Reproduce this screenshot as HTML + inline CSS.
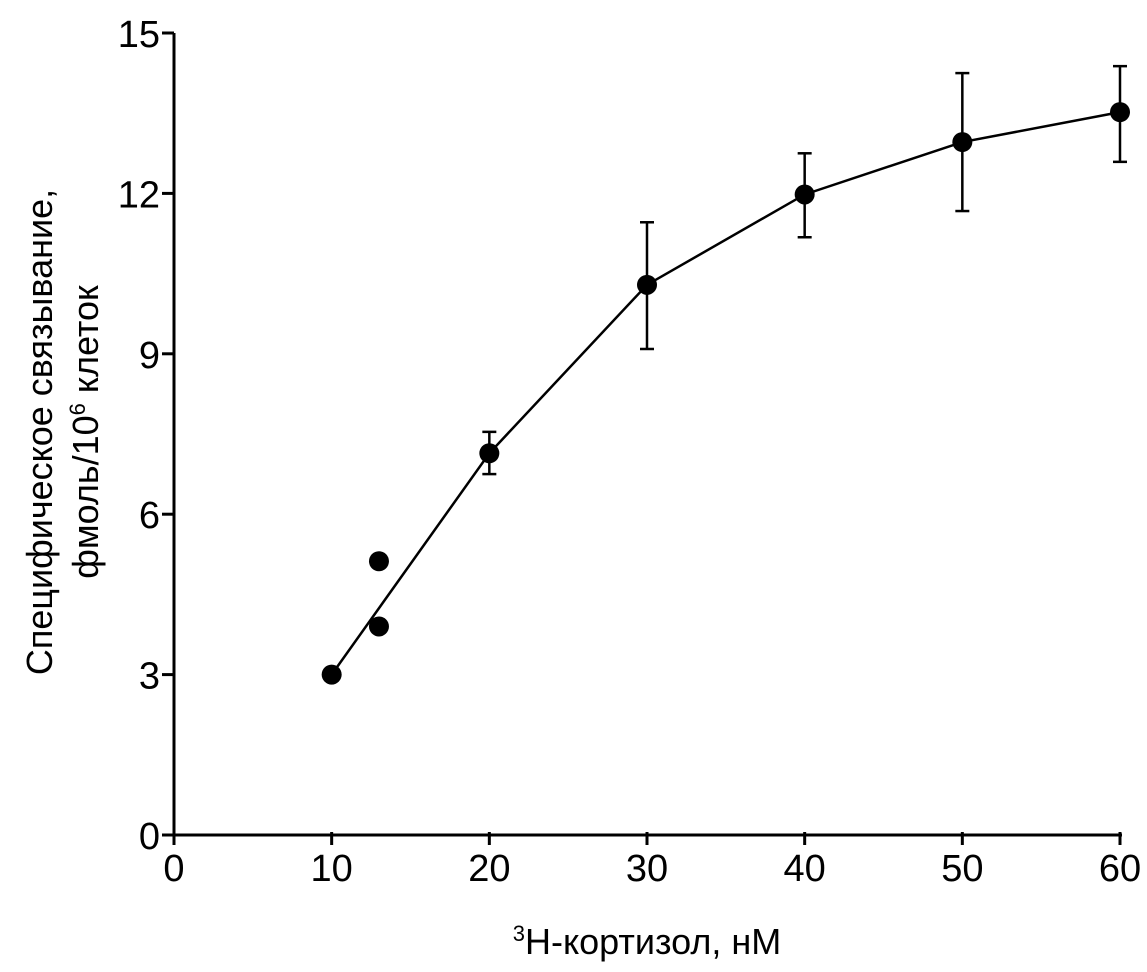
<!DOCTYPE html>
<html><head><meta charset="utf-8"><style>
html,body{margin:0;padding:0;background:#fff;}
svg{display:block;font-family:"Liberation Sans","DejaVu Sans",sans-serif;}
</style></head><body>
<svg id="chart" width="1147" height="972" viewBox="0 0 1147 972"></svg>
<script>
const xTicks=[0,10,20,30,40,50,60];
const yTicks=[0,3,6,9,12,15];
const pointX=[10,13,13,20,30,40,50,60];
const pointY=[3.0,5.12,3.9,7.14,10.29,11.98,12.96,13.52];
const lineX=[10,20,30,40,50,60];
const lineY=[3.0,7.14,10.29,11.98,12.96,13.52];
const errX=[20,30,40,50,60];
const errLow=[6.75,9.09,11.18,11.67,12.59];
const errHigh=[7.54,11.46,12.75,14.25,14.38];

const X0=174,X1=1120,Y0=835,Y1=33;
const sx=v=>X0+(v-0)/60*(X1-X0);
const sy=v=>Y0-(v-0)/15*(Y0-Y1);
const NS="http://www.w3.org/2000/svg";
const svg=document.getElementById('chart');
function mk(tag,attrs,parent){const e=document.createElementNS(NS,tag);for(const k in attrs)e.setAttribute(k,attrs[k]);(parent||svg).appendChild(e);return e;}

const axes=mk('g',{stroke:'#000','stroke-width':3,fill:'none'});


const xa=mk('line',{x1:X0-12,y1:Y0,x2:X1+2,y2:Y0},axes);


const ya=mk('line',{x1:X0,y1:Y0+10,x2:X0,y2:Y1},axes);



xTicks.forEach(t=>{
  const l=mk('line',{x1:sx(t),y1:Y0-3,x2:sx(t),y2:Y0+10},axes);
  
  
  const tx=mk('text',{x:sx(t),y:Y0+46,'text-anchor':'middle','font-size':38,fill:'#000'});
  tx.textContent=t;
  
  
});
yTicks.forEach(t=>{
  const l=mk('line',{x1:X0-12,y1:sy(t),x2:X0,y2:sy(t)},axes);
  
  
  const tx=mk('text',{x:X0-14,y:sy(t)+14,'text-anchor':'end','font-size':38,fill:'#000'});
  tx.textContent=t;
  
  
});

const pl=mk('polyline',{points:lineX.map((x,i)=>sx(x)+','+sy(lineY[i])).join(' '),fill:'none',stroke:'#000','stroke-width':2.5});



errX.forEach((x,i)=>{
  const g=mk('g',{stroke:'#000','stroke-width':2.5});
  
  
  mk('line',{x1:sx(x),y1:sy(errLow[i]),x2:sx(x),y2:sy(errHigh[i])},g);
  mk('line',{x1:sx(x)-7,y1:sy(errLow[i]),x2:sx(x)+7,y2:sy(errLow[i])},g);
  mk('line',{x1:sx(x)-7,y1:sy(errHigh[i]),x2:sx(x)+7,y2:sy(errHigh[i])},g);
});

pointX.forEach((x,i)=>{
  const c=mk('circle',{cx:sx(x),cy:sy(pointY[i]),r:10,fill:'#000'});
  
  
});

const xt=mk('text',{x:647,y:954,'text-anchor':'middle','font-size':36,fill:'#000'});


xt.innerHTML='<tspan font-size="22" dy="-13">3</tspan><tspan dy="13">Н-кортизол, нМ</tspan>';

const yt=mk('text',{transform:'translate(52,432) rotate(-90)','text-anchor':'middle','font-size':36,fill:'#000'});


yt.innerHTML='<tspan x="0" y="0">Специфическое связывание,</tspan><tspan x="0" y="46">фмоль/10</tspan><tspan font-size="22" dy="-13">6</tspan><tspan dy="13"> клеток</tspan>';
</script>
</body></html>
